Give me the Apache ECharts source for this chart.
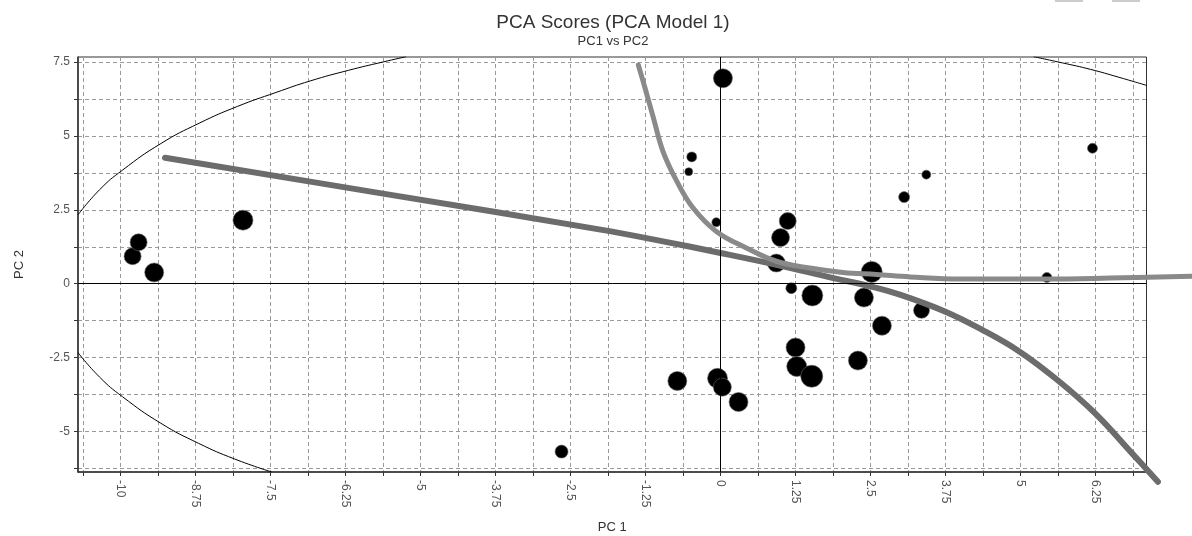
<!DOCTYPE html>
<html>
<head>
<meta charset="utf-8">
<title>PCA Scores</title>
<script src="https://cdn.jsdelivr.net/npm/echarts@6/dist/echarts.min.js"></script>
<style>
  html, body { margin: 0; padding: 0; background: #fff; }
  #chart { width: 1192px; height: 536px; }
</style>
</head>
<body>
<div id="chart"></div>
<script>
// scores
const pc1 = [-9.80, -9.70, -9.44, -7.96, -2.65, 0.04, -0.48, -0.53, -0.07, 1.12,
  1.00, 0.93, 1.18, 1.53, 2.52, 2.39, 3.06, 3.43, 6.20, 5.44,
  3.35, -0.72, -0.05, 0.03, 0.30, 1.25, 1.27, 1.52, 2.29, 2.69]
const pc2 = [0.93, 1.40, 0.38, 2.15, -5.68, 6.95, 4.29, 3.79, 2.08, 2.12,
  1.56, 0.70, -0.15, -0.40, 0.40, -0.47, 2.93, 3.69, 4.58, 0.21,
  -0.90, -3.29, -3.20, -3.50, -4.00, -2.16, -2.80, -3.13, -2.60, -1.42]
// relative bubble weight of each sample
const weight = [1.7, 1.7, 1.9, 2.0, 1.3, 1.9, 1.0, 0.8, 0.9, 1.7,
  1.8, 1.8, 1.1, 2.1, 2.1, 1.9, 1.1, 0.9, 1.0, 1.0,
  1.6, 1.9, 2.0, 1.8, 1.9, 1.9, 2.0, 2.2, 1.9, 1.9]

// confidence ellipse, the visible arcs
const ellipseTopLeft = [[-10.71, 2.33], [-10.35, 3.18], [-9.97, 3.84], [-9.33, 4.74], [-8.69, 5.43],
  [-8.05, 6.00], [-7.41, 6.47], [-6.84, 6.86], [-6.20, 7.22], [-5.63, 7.50], [-5.24, 7.68]]
const ellipseBottomLeft = [[-10.71, -2.33], [-10.35, -3.16], [-9.97, -3.82], [-9.33, -4.72],
  [-8.70, -5.40], [-8.10, -5.93], [-7.48, -6.37]]
const ellipseTopRight = [[5.22, 7.68], [5.70, 7.47], [6.17, 7.25], [6.63, 6.99], [7.10, 6.71]]

// hand drawn grey curves
const curveA = [[-9.26, 4.26], [-5.6, 3.04], [-2.0, 1.83], [-1.0, 1.45], [0, 1.04], [0.93, 0.64],
  [1.88, 0.19], [2.5, -0.09], [2.99, -0.37], [3.74, -0.94], [4.36, -1.56], [4.98, -2.29],
  [5.61, -3.25], [6.24, -4.38], [6.86, -5.74], [7.29, -6.70]]
const curveB = [[-1.37, 7.40], [-1.26, 6.63], [-1.12, 5.62], [-0.96, 4.48], [-0.73, 3.47],
  [-0.46, 2.57], [-0.07, 1.77], [0.43, 1.21], [0.93, 0.76], [1.49, 0.53], [2.04, 0.38],
  [2.6, 0.31], [3.16, 0.23], [4.0, 0.16], [5.43, 0.16], [6.49, 0.19], [7.85, 0.25]]

// ticks / labels
const xTicks = [-10.625, -10, -9.375, -8.75, -8.125, -7.5, -6.875, -6.25, -5.625, -5, -4.375,
  -3.75, -3.125, -2.5, -1.875, -1.25, -0.625, 0, 0.625, 1.25, 1.875, 2.5, 3.125, 3.75,
  4.375, 5, 5.625, 6.25, 6.875]
const xLabels = [-10, -8.75, -7.5, -6.25, -5, -3.75, -2.5, -1.25, 0, 1.25, 2.5, 3.75, 5, 6.25]
const yTicks = [-6.25, -5, -3.75, -2.5, -1.25, 0, 1.25, 2.5, 3.75, 5, 6.25, 7.5]
const yLabels = [-5, -2.5, 0, 2.5, 5, 7.5]

const W = 1192, H = 536
const gridLeft = 78, gridRight = 45.5, gridTop = 57, gridBottom = 64
const xMin = -10.71, xMax = 7.1, yMin = -6.37, yMax = 7.67

// the grey pen strokes run past the plot frame: draw them on an invisible
// grid with the same scale that reaches to the page edge
const pxX = (W - gridLeft - gridRight) / (xMax - xMin)
const pxY = (H - gridTop - gridBottom) / (yMax - yMin)
const xMax2 = xMin + (W - gridLeft) / pxX
const yMin2 = yMax - (H - gridTop) / pxY

const font = '"Liberation Sans", Arial, Helvetica, sans-serif'
const scores = pc1.map((x, i) => [x, pc2[i], weight[i]])

const chart = echarts.init(document.getElementById('chart'))

function arc(data) {
  return {
    type: 'line',
    data: data,
    smooth: true,
    showSymbol: false,
    silent: true,
    clip: true,
    lineStyle: { color: '#000', width: 1 },
    z: 2
  }
}

function curve(data, color, width, z) {
  return {
    type: 'line',
    xAxisIndex: 1,
    yAxisIndex: 1,
    data: data,
    smooth: 0.4,
    showSymbol: false,
    silent: true,
    lineStyle: { color: color, width: width, cap: 'round', join: 'round' },
    z: z
  }
}

const option = {
  backgroundColor: '#fff',
  animation: false,
  textStyle: { fontFamily: font },
  title: {
    text: 'PCA Scores (PCA Model 1)',
    subtext: 'PC1 vs PC2',
    left: 608,
    top: 8,
    textAlign: 'center',
    itemGap: 3,
    textStyle: { fontFamily: font, fontSize: 19, fontWeight: 'normal', color: '#333' },
    subtextStyle: { fontFamily: font, fontSize: 13, color: '#333' }
  },
  grid: [
    {
      left: gridLeft,
      right: gridRight,
      top: gridTop,
      bottom: gridBottom,
      outerBoundsMode: 'none',
      containLabel: false,
      show: true,
      borderColor: '#333',
      borderWidth: 1
    },
    { left: gridLeft, right: 0, top: gridTop, bottom: 0, outerBoundsMode: 'none', show: false }
  ],
  xAxis: [
    {
      type: 'value',
      min: xMin,
      max: xMax,
      name: 'PC 1',
      nameLocation: 'middle',
      nameGap: 49,
      nameTextStyle: { fontFamily: font, fontSize: 13, color: '#333' },
      axisLine: { show: true, onZero: false, lineStyle: { color: '#333', width: 1.5 } },
      axisTick: { show: true, customValues: xTicks, length: 4, lineStyle: { color: '#333' } },
      axisLabel: { customValues: xLabels, rotate: -90, margin: 8, fontSize: 12, color: '#555' },
      splitLine: { show: true, lineStyle: { type: [4, 3], color: '#9a9a9a', width: 1 } }
    },
    { type: 'value', gridIndex: 1, min: xMin, max: xMax2, show: false }
  ],
  yAxis: [
    {
      type: 'value',
      min: yMin,
      max: yMax,
      name: 'PC 2',
      nameLocation: 'middle',
      nameGap: 52,
      nameTextStyle: { fontFamily: font, fontSize: 13, color: '#333' },
      axisLine: { show: true, onZero: false, lineStyle: { color: '#333', width: 1.5 } },
      axisTick: { show: true, customValues: yTicks, length: 4, lineStyle: { color: '#333' } },
      axisLabel: { customValues: yLabels, margin: 8, fontSize: 12, color: '#555' },
      splitLine: { show: true, lineStyle: { type: [4, 3], color: '#9a9a9a', width: 1 } }
    },
    { type: 'value', gridIndex: 1, min: yMin2, max: yMax, show: false }
  ],
  graphic: [
    { type: 'rect', left: 1055, top: 0, shape: { width: 28, height: 2 }, style: { fill: '#ccc' } },
    { type: 'rect', left: 1112, top: 0, shape: { width: 28, height: 2 }, style: { fill: '#ccc' } }
  ],
  series: [
    arc(ellipseTopLeft),
    arc(ellipseBottomLeft),
    arc(ellipseTopRight),
    {
      type: 'scatter',
      data: scores,
      symbolSize: (v) => v[2] * 10,
      itemStyle: { color: '#000', borderColor: '#666', borderWidth: 0.6, opacity: 1 },
      z: 3,
      markLine: {
        silent: true,
        symbol: 'none',
        label: { show: false },
        lineStyle: { color: '#000', type: 'solid', width: 1 },
        data: [{ xAxis: 0 }, { yAxis: 0 }]
      }
    },
    curve(curveA, '#6c6c6c', 6, 4),
    curve(curveB, '#8a8a8a', 5, 5)
  ]
}

chart.setOption(option)
</script>
</body>
</html>
